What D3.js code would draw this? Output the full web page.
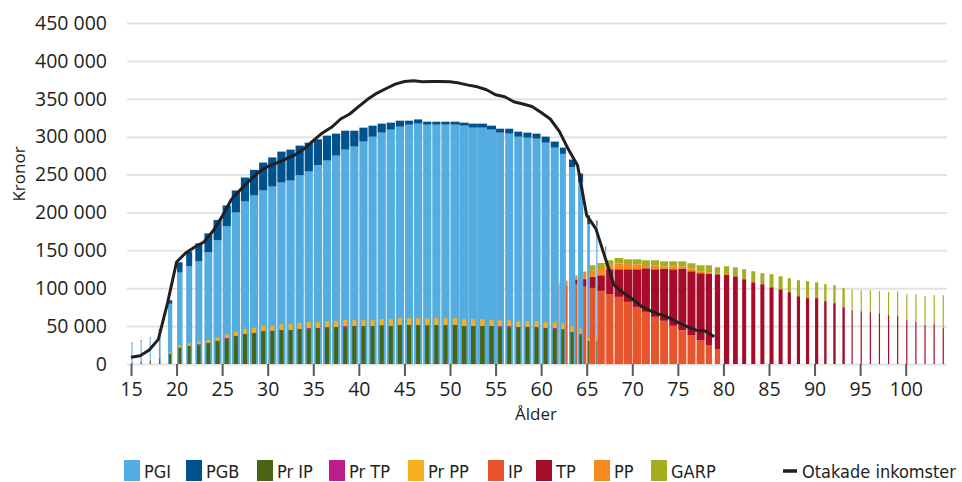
<!DOCTYPE html>
<html>
<head>
<meta charset="utf-8">
<script src="https://cdn.jsdelivr.net/npm/d3@7"></script>
<style>
  body { margin: 0; background: #fff; }
  text { font-family: "Open Sans", "DejaVu Sans", sans-serif; fill: #231f20; }
  .legend text { font-family: "DejaVu Sans Condensed", "Liberation Sans Narrow", "Roboto Condensed", "Open Sans", sans-serif; font-stretch: condensed; }
</style>
</head>
<body>
<svg id="chart" width="962" height="482"></svg>
<script>
// ---- data ----
// working-age bars, ages 15..67
const workStart = 15;
const PGI = [27500, 30500, 34000, 43400, 79400, 120700, 129000, 135500, 147400, 163200,
  181600, 200000, 214500, 222400, 229000, 234200, 239500, 242100, 249100, 254000,
  262300, 268500, 275000, 282900, 286900, 293500, 300000, 305300, 309300, 313200,
  315800, 317200, 315800, 315800, 315800, 315800, 314500, 311900, 311900, 309300,
  305300, 304000, 300000, 298700, 297400, 292100, 285500, 277300, 259700, 239900,
  184200, 183000, 150000];
const PGB = [1000, 1100, 1100, 2600, 4800, 13500, 19300, 23700, 25000, 26800,
  27600, 29000, 31600, 33800, 36800, 38400, 40800, 40800, 39100, 38100,
  34200, 32900, 29000, 25000, 21000, 18400, 14500, 11900, 9200, 7900,
  5300, 5600, 4000, 4000, 4000, 4000, 4000, 5300, 5300, 5200,
  5200, 6500, 6600, 6600, 6600, 7900, 8000, 8200, 10100, 11500,
  11900, 6500, 5300];
const PrIP = [1500, 2500, 4000, 6500, 13000, 21500, 23700, 24600, 27600, 30300,
  32900, 36800, 39500, 40800, 42500, 43800, 44700, 44700, 46100, 46100,
  47400, 47400, 48700, 48700, 50000, 50000, 50000, 50000, 50000, 51300,
  51300, 51300, 50000, 51300, 51300, 51300, 50000, 50000, 50000, 50000,
  48700, 48700, 48700, 48700, 48700, 47400, 46100, 44700, 42100, 38200,
  30300, 30300, 0];
const PrTP = [300, 800, 500, 1000, 300, 300, 300, 1500, 300, 300,
  1300, 300, 300, 300, 1300, 300, 300, 300, 300, 1300,
  300, 1300, 300, 1300, 300, 300, 300, 1300, 300, 300,
  300, 300, 1300, 300, 300, 300, 300, 300, 300, 300,
  1300, 1300, 300, 300, 300, 300, 1300, 1300, 300, 1300,
  300, 300, 0];
const PrPP = [500, 500, 600, 800, 2600, 3400, 3700, 4100, 3800, 4600,
  4900, 5500, 6400, 6400, 6600, 6400, 7600, 7600, 7600, 7900,
  7600, 7900, 8000, 7900, 7600, 7600, 7600, 7900, 8900, 8900,
  8900, 8900, 8900, 8900, 8900, 8900, 8900, 8900, 8900, 7600,
  7600, 7600, 7600, 7600, 7600, 7600, 7600, 7500, 7600, 7500,
  4000, 4000, 0];
// relative bar width (share of the age slot) for the working group
const workShare = [0.11, 0.11, 0.11, 0.19, 0.47, 0.6, 0.66, 0.77, 0.86, 0.88,
  0.9, 0.9, 0.9, 0.9, 0.9, 0.9, 0.9, 0.9, 0.9, 0.9,
  0.9, 0.9, 0.9, 0.9, 0.9, 0.9, 0.9, 0.9, 0.9, 0.9,
  0.9, 0.9, 0.9, 0.9, 0.9, 1, 1, 1, 1, 1,
  0.88, 0.88, 0.88, 0.88, 0.88, 0.88, 0.88, 0.66, 0.68, 0.55,
  0.3, 0.13, 0.08];

// pensioner bars, ages 61..104
const penStart = 61;
const IP = [104000, 101000, 104900, 102000, 100400, 96500, 92100, 88600, 82000, 75400,
  68800, 62200, 57000, 50400, 44700, 38200, 31600, 25000, 19700, 0,
  0, 0, 0, 0, 0, 0, 0, 0, 0, 0,
  0, 0, 0, 0, 0, 0, 0, 0, 0, 0,
  0, 0, 0, 0];
const TP = [0, 1500, 6600, 10000, 14500, 20600, 32900, 36400, 43000, 49600,
  57500, 62800, 68900, 74600, 81200, 84200, 88200, 94400, 98700, 117500,
  115800, 111900, 107900, 105300, 101300, 98700, 94800, 89500, 86900, 86900,
  82900, 80300, 75000, 71100, 69700, 68400, 67100, 64500, 63200, 57900,
  55300, 51300, 52600, 47400];
const PP = [4300, 7500, 5600, 10000, 8800, 9600, 5300, 7500, 7000, 6600,
  4400, 5300, 3100, 4000, 3100, 3900, 2600, 1700, 1400, 1300,
  0, 0, 0, 0, 0, 0, 0, 0, 0, 0,
  0, 0, 0, 0, 0, 0, 0, 0, 0, 0,
  0, 0, 0, 0];
const GARP = [0, 0, 0, 0, 6600, 6600, 6600, 7400, 6200, 6600,
  6200, 6600, 6500, 6500, 6500, 6600, 7900, 9200, 7900, 10200,
  11900, 13100, 14500, 14500, 17100, 17100, 18400, 21000, 22300, 21000,
  22400, 23700, 25000, 27600, 27700, 29000, 29000, 30300, 32900, 34200,
  36800, 38200, 38200, 43400];
const penShare = [0.08, 0.19, 0.25, 0.36, 0.62, 0.8, 0.8, 0.95, 0.95, 0.95,
  0.88, 0.88, 0.88, 0.88, 0.88, 0.88, 0.88, 0.69, 0.58, 0.58,
  0.52, 0.44, 0.44, 0.44, 0.44, 0.44, 0.35, 0.35, 0.35, 0.35,
  0.26, 0.26, 0.26, 0.13, 0.13, 0.13, 0.13, 0.13, 0.13, 0.13,
  0.13, 0.13, 0.13, 0.13];

// uncapped income line, ages 15..79
const lineStart = 15;
const otakade = [8800, 11000, 18400, 32500, 80000, 134600, 146500, 154400, 161000, 175400,
  194800, 216700, 229900, 242100, 253100, 260600, 265400, 270600, 276000, 283900,
  294800, 304900, 312300, 323300, 329900, 339900, 349600, 357500, 363600, 369400,
  372800, 373700, 372400, 372800, 372800, 372400, 370700, 368000, 365800, 361900,
  355300, 352700, 346100, 343100, 339900, 332000, 323300, 307000, 283000, 262000,
  196100, 178600, 141200, 104000, 94000, 86000, 76000, 70000, 65600, 61200,
  55000, 49500, 44700, 43600, 36000];

const yTicks = [0, 50000, 100000, 150000, 200000, 250000, 300000, 350000, 400000, 450000];
const xTicks = [15, 20, 25, 30, 35, 40, 45, 50, 55, 60, 65, 70, 75, 80, 85, 90, 95, 100];

const colors = {
  PGI: "#53ade0", PGB: "#00528e", PrIP: "#4a6416", PrTP: "#bc1c8c", PrPP: "#f9ae1c",
  IP: "#e8552d", TP: "#a60b27", PP: "#f58a20", GARP: "#a5ae1d"
};
const legendItems = [
  ["PGI", "PGI"], ["PGB", "PGB"], ["PrIP", "Pr IP"], ["PrTP", "Pr TP"], ["PrPP", "Pr PP"],
  ["IP", "IP"], ["TP", "TP"], ["PP", "PP"], ["GARP", "GARP"]
];

// ---- chart ----
const svg = d3.select("#chart");
const x = d3.scaleLinear().domain([15, 100]).range([131, 905.7]);
const y = d3.scaleLinear().domain([0, 450000]).range([364, 23]);
const step = x(16) - x(15);
const se = d3.formatLocale({ decimal: ",", thousands: " ", grouping: [3], currency: ["", " kr"] });

// grid + y axis
const yAxis = svg.append("g")
  .attr("transform", "translate(127,0)")
  .call(d3.axisLeft(y).tickValues(yTicks).tickSize(-820).tickPadding(20).tickFormat(se.format(",")));
yAxis.select(".domain").remove();
yAxis.selectAll(".tick line").attr("stroke", "#e3e3e3").attr("stroke-width", 2);
yAxis.selectAll(".tick text").style("font-size", "19.5px").attr("fill", "#231f20");

// x axis
const xAxis = svg.append("g")
  .attr("transform", "translate(0,364)")
  .call(d3.axisBottom(x).tickValues(xTicks).tickSize(12).tickPadding(6));
xAxis.select(".domain").remove();
xAxis.selectAll(".tick line").attr("stroke", "#5a5a5a").attr("stroke-width", 2);
xAxis.selectAll(".tick text").style("font-size", "19.5px").attr("fill", "#231f20");

const workRows = PGI.map((v, i) => ({
  age: workStart + i, PGI: v, PGB: PGB[i], PrIP: PrIP[i], PrTP: PrTP[i], PrPP: PrPP[i], w: workShare[i]
}));
const workW = {};
workRows.forEach(d => { workW[d.age] = d.w; });
const penRows = IP.map((v, i) => ({
  age: penStart + i, IP: v, TP: TP[i], PP: PP[i], GARP: GARP[i], w: penShare[i]
}));

function drawStack(rows, keys, left, width) {
  const series = d3.stack().keys(keys)(rows);
  svg.append("g").selectAll("g")
    .data(series)
    .join("g")
    .attr("fill", s => colors[s.key])
    .selectAll("rect")
    .data(s => s.filter(p => p[1] > p[0]))
    .join("rect")
    .attr("x", p => left(p.data))
    .attr("width", p => width(p.data))
    .attr("y", p => y(p[1]))
    .attr("height", p => y(p[0]) - y(p[1]));
}

// working group bars start at the tick
drawStack(workRows, ["PGI", "PGB"], d => x(d.age) + 0.5, d => d.w * step);
// pension rights, narrower and centred on the working bar
drawStack(workRows, ["PrIP", "PrTP", "PrPP"],
  d => x(d.age) + 0.5 + d.w * step / 2 - Math.max(1, d.w * step * 0.5) / 2,
  d => Math.max(1, d.w * step * 0.5));
// pensioner bars sit right after the working bar of the same age
drawStack(penRows, ["IP", "TP", "PP", "GARP"],
  d => x(d.age) + 0.5 + (workW[d.age] || 0) * step,
  d => d.w * step);

// line
const lineData = otakade.map((v, i) => ({ age: lineStart + i, v }));
svg.append("path")
  .datum(lineData)
  .attr("fill", "none")
  .attr("stroke", "#231f20")
  .attr("stroke-width", 3)
  .attr("stroke-linejoin", "round")
  .attr("d", d3.line().x(d => x(d.age)).y(d => y(d.v)));

// axis titles
svg.append("text")
  .attr("transform", "translate(25,174) rotate(-90)")
  .attr("text-anchor", "middle")
  .style("font-size", "17px")
  .text("Kronor");
svg.append("text")
  .attr("x", 536).attr("y", 420)
  .attr("text-anchor", "middle")
  .style("font-size", "17px")
  .text("Ålder");

// legend
const legend = svg.append("g").attr("class", "legend");
const swatchX = [124, 186, 257, 329, 408, 488, 536, 594, 651];
legendItems.forEach(([key, label], i) => {
  legend.append("rect")
    .attr("x", swatchX[i]).attr("y", 460).attr("width", 16).attr("height", 21)
    .attr("fill", colors[key]);
  legend.append("text")
    .attr("x", swatchX[i] + 20).attr("y", 478)
    .style("font-size", "18px")
    .text(label);
});
legend.append("line")
  .attr("x1", 783).attr("x2", 797).attr("y1", 471).attr("y2", 471)
  .attr("stroke", "#231f20").attr("stroke-width", 3.5);
legend.append("text")
  .attr("x", 802).attr("y", 478)
  .style("font-size", "18px")
  .text("Otakade inkomster");
</script>
</body>
</html>
